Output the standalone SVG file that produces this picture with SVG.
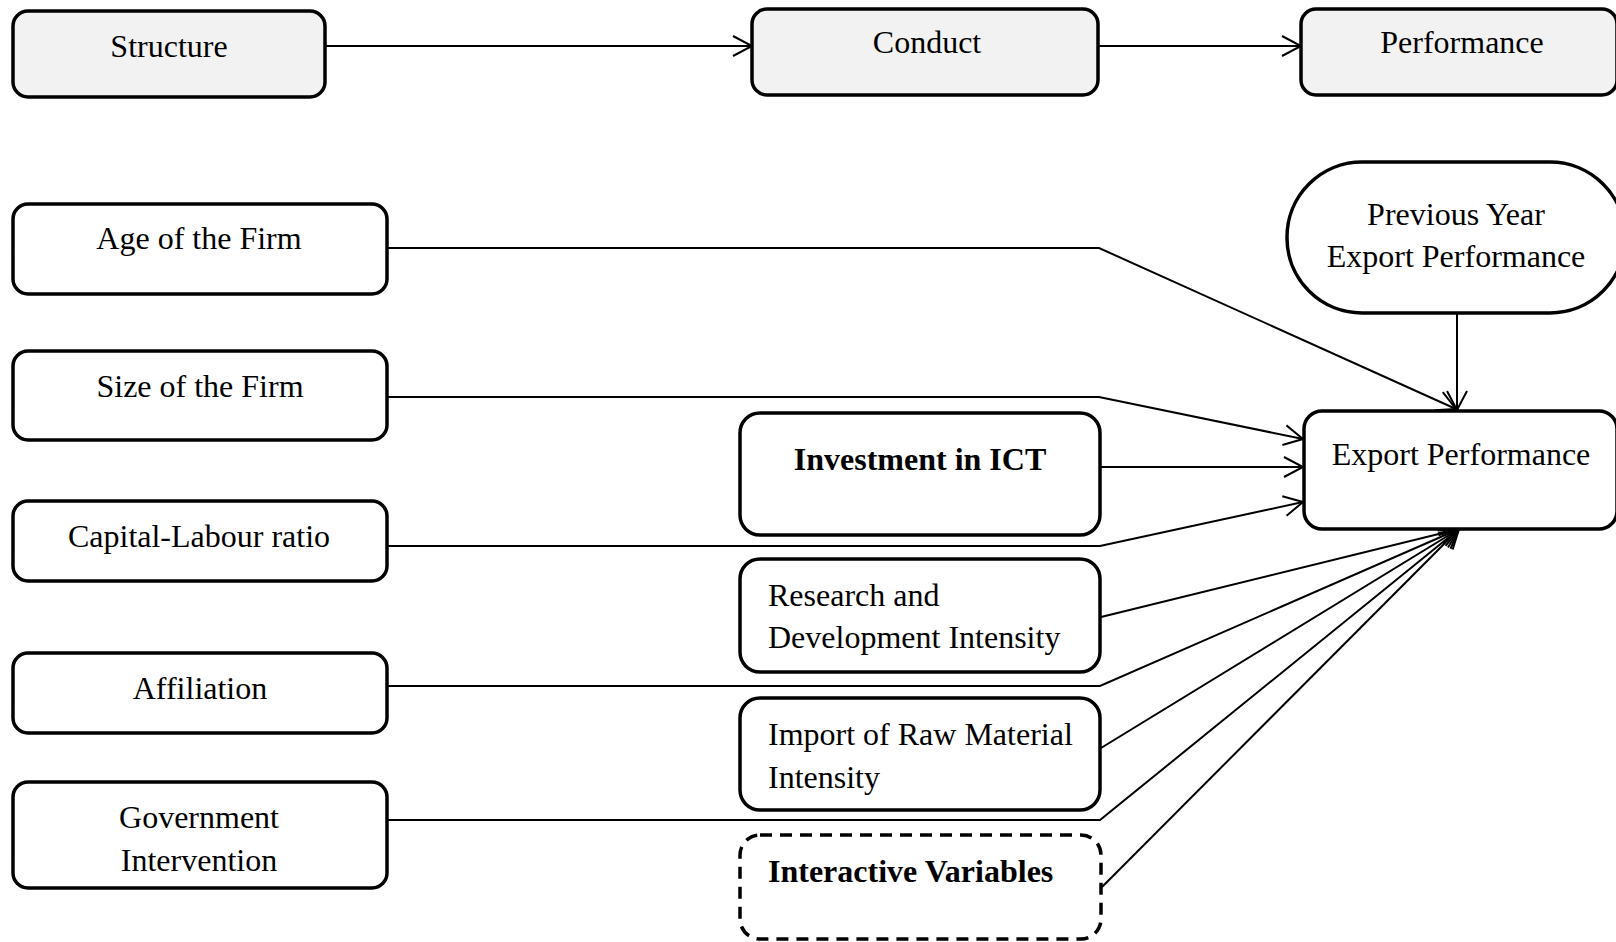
<svg xmlns="http://www.w3.org/2000/svg" width="1616" height="942" viewBox="0 0 1616 942">
<style>
.box{fill:#fff;stroke:#000;stroke-width:3.5}
.grey{fill:#f2f2f2}
.dash{stroke-dasharray:12 8}
.t{font-family:"Liberation Serif","Times New Roman",serif;font-size:32px;fill:#000}
.c{text-anchor:middle}
.b{font-weight:bold}
.ln{fill:none;stroke:#000;stroke-width:2}
</style>
<defs>
<marker id="arr" markerUnits="userSpaceOnUse" markerWidth="24" markerHeight="24" viewBox="0 0 24 24" refX="20" refY="12" orient="auto">
<path d="M1,2 L20,12 L1,22" fill="none" stroke="#000" stroke-width="2"/>
</marker>
</defs>
<rect width="1616" height="942" fill="#fff"/>
<g id="connectors">
<path class="ln" d="M325,46 H752" marker-end="url(#arr)"/>
<path class="ln" d="M1098,46 H1301" marker-end="url(#arr)"/>
<path class="ln" d="M387,248 H1099 L1456,409" marker-end="url(#arr)"/>
<path class="ln" d="M387,397 H1099 L1303,439" marker-end="url(#arr)"/>
<path class="ln" d="M1100,467 H1303" marker-end="url(#arr)"/>
<path class="ln" d="M387,546 H1100 L1303,502" marker-end="url(#arr)"/>
<path class="ln" d="M1457,313 V410" marker-end="url(#arr)"/>
<path class="ln" d="M1101,617 L1459,529" marker-end="url(#arr)"/>
<path class="ln" d="M387,686 H1100 L1459,529" marker-end="url(#arr)"/>
<path class="ln" d="M1101,748 L1459,529" marker-end="url(#arr)"/>
<path class="ln" d="M387,820 H1100 L1459,529" marker-end="url(#arr)"/>
<path class="ln" d="M1102,887 L1459,529" marker-end="url(#arr)"/>
</g>
<g id="structure"><rect class="box grey" x="13" y="11" width="312" height="86" rx="15"/><text class="t c" x="169" y="57">Structure</text></g>
<g id="conduct"><rect class="box grey" x="752" y="9" width="346" height="86" rx="15"/><text class="t c" x="927" y="53">Conduct</text></g>
<g id="performance"><rect class="box grey" x="1301" y="9" width="316" height="86" rx="15"/><text class="t c" x="1462" y="53">Performance</text></g>
<g id="age"><rect class="box" x="13" y="204" width="374" height="90" rx="15"/><text class="t c" x="199" y="249">Age of the Firm</text></g>
<g id="size"><rect class="box" x="13" y="351" width="374" height="89" rx="15"/><text class="t c" x="200" y="397">Size of the Firm</text></g>
<g id="capital"><rect class="box" x="13" y="501" width="374" height="80" rx="15"/><text class="t c" x="199" y="547">Capital-Labour ratio</text></g>
<g id="affiliation"><rect class="box" x="13" y="653" width="374" height="80" rx="15"/><text class="t c" x="200" y="699">Affiliation</text></g>
<g id="government"><rect class="box" x="13" y="782" width="374" height="106" rx="15"/><text class="t c" x="199" y="828">Government</text><text class="t c" x="199" y="871">Intervention</text></g>
<g id="ict"><rect class="box" x="740" y="413" width="360" height="122" rx="20"/><text class="t c b" x="920" y="470">Investment in ICT</text></g>
<g id="research"><rect class="box" x="740" y="559" width="360" height="113" rx="20"/><text class="t" x="768" y="606">Research and</text><text class="t" x="768" y="648">Development Intensity</text></g>
<g id="import"><rect class="box" x="740" y="698" width="360" height="112" rx="20"/><text class="t" x="768" y="745">Import of Raw Material</text><text class="t" x="768" y="788">Intensity</text></g>
<g id="interactive"><rect class="box dash" x="740" y="835" width="361" height="104" rx="20"/><text class="t b" x="768" y="882">Interactive Variables</text></g>
<g id="previous"><rect class="box" x="1287" y="162" width="338" height="151" rx="75"/><text class="t c" x="1456" y="225">Previous Year</text><text class="t c" x="1456" y="267">Export Performance</text></g>
<g id="export"><rect class="box" x="1304" y="411" width="313" height="118" rx="18"/><text class="t c" x="1461" y="465">Export Performance</text></g>
</svg>
